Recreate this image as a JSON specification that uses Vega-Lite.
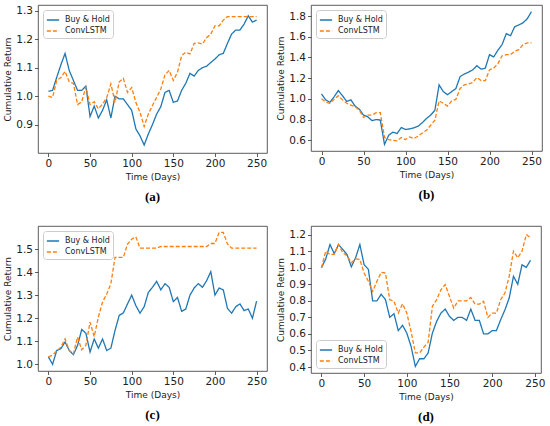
{
  "$schema": "https://vega.github.io/schema/vega-lite/v6.json",
  "padding": {"left": 3, "top": 4, "right": 4, "bottom": 0},
  "data": {"values": [
    {"p":"a","d":0,"Buy & Hold":1.017,"ConvLSTM":1.0},
    {"p":"a","d":5,"Buy & Hold":1.02,"ConvLSTM":0.995},
    {"p":"a","d":10,"Buy & Hold":1.066,"ConvLSTM":1.055},
    {"p":"a","d":15,"Buy & Hold":1.11,"ConvLSTM":1.065},
    {"p":"a","d":20,"Buy & Hold":1.15,"ConvLSTM":1.087},
    {"p":"a","d":25,"Buy & Hold":1.09,"ConvLSTM":1.05},
    {"p":"a","d":30,"Buy & Hold":1.055,"ConvLSTM":1.045},
    {"p":"a","d":35,"Buy & Hold":1.02,"ConvLSTM":0.97},
    {"p":"a","d":40,"Buy & Hold":1.02,"ConvLSTM":0.98},
    {"p":"a","d":45,"Buy & Hold":1.035,"ConvLSTM":1.033},
    {"p":"a","d":50,"Buy & Hold":0.928,"ConvLSTM":0.97},
    {"p":"a","d":55,"Buy & Hold":0.965,"ConvLSTM":0.98},
    {"p":"a","d":60,"Buy & Hold":0.923,"ConvLSTM":0.955},
    {"p":"a","d":65,"Buy & Hold":0.95,"ConvLSTM":0.972},
    {"p":"a","d":70,"Buy & Hold":0.987,"ConvLSTM":0.994},
    {"p":"a","d":75,"Buy & Hold":0.923,"ConvLSTM":1.043},
    {"p":"a","d":80,"Buy & Hold":1.0,"ConvLSTM":0.978},
    {"p":"a","d":85,"Buy & Hold":0.99,"ConvLSTM":1.05},
    {"p":"a","d":90,"Buy & Hold":0.99,"ConvLSTM":1.062},
    {"p":"a","d":95,"Buy & Hold":0.97,"ConvLSTM":1.013},
    {"p":"a","d":100,"Buy & Hold":0.95,"ConvLSTM":1.03},
    {"p":"a","d":105,"Buy & Hold":0.885,"ConvLSTM":0.978},
    {"p":"a","d":110,"Buy & Hold":0.86,"ConvLSTM":0.943},
    {"p":"a","d":115,"Buy & Hold":0.828,"ConvLSTM":0.893},
    {"p":"a","d":120,"Buy & Hold":0.867,"ConvLSTM":0.937},
    {"p":"a","d":125,"Buy & Hold":0.9,"ConvLSTM":0.967},
    {"p":"a","d":130,"Buy & Hold":0.937,"ConvLSTM":0.996},
    {"p":"a","d":135,"Buy & Hold":0.963,"ConvLSTM":1.025},
    {"p":"a","d":140,"Buy & Hold":1.013,"ConvLSTM":1.075},
    {"p":"a","d":145,"Buy & Hold":1.02,"ConvLSTM":1.09},
    {"p":"a","d":150,"Buy & Hold":0.978,"ConvLSTM":1.055},
    {"p":"a","d":155,"Buy & Hold":0.983,"ConvLSTM":1.084},
    {"p":"a","d":160,"Buy & Hold":1.02,"ConvLSTM":1.142},
    {"p":"a","d":165,"Buy & Hold":1.045,"ConvLSTM":1.154},
    {"p":"a","d":170,"Buy & Hold":1.08,"ConvLSTM":1.148},
    {"p":"a","d":175,"Buy & Hold":1.07,"ConvLSTM":1.185},
    {"p":"a","d":180,"Buy & Hold":1.09,"ConvLSTM":1.187},
    {"p":"a","d":185,"Buy & Hold":1.1,"ConvLSTM":1.183},
    {"p":"a","d":190,"Buy & Hold":1.105,"ConvLSTM":1.205},
    {"p":"a","d":195,"Buy & Hold":1.118,"ConvLSTM":1.218},
    {"p":"a","d":200,"Buy & Hold":1.13,"ConvLSTM":1.247},
    {"p":"a","d":205,"Buy & Hold":1.145,"ConvLSTM":1.247},
    {"p":"a","d":210,"Buy & Hold":1.15,"ConvLSTM":1.267},
    {"p":"a","d":215,"Buy & Hold":1.185,"ConvLSTM":1.279},
    {"p":"a","d":220,"Buy & Hold":1.218,"ConvLSTM":1.279},
    {"p":"a","d":225,"Buy & Hold":1.232,"ConvLSTM":1.279},
    {"p":"a","d":230,"Buy & Hold":1.232,"ConvLSTM":1.279},
    {"p":"a","d":235,"Buy & Hold":1.253,"ConvLSTM":1.279},
    {"p":"a","d":240,"Buy & Hold":1.282,"ConvLSTM":1.279},
    {"p":"a","d":245,"Buy & Hold":1.26,"ConvLSTM":1.279},
    {"p":"a","d":250,"Buy & Hold":1.267,"ConvLSTM":1.279},

    {"p":"b","d":0,"Buy & Hold":1.047,"ConvLSTM":1.0},
    {"p":"b","d":5,"Buy & Hold":0.99,"ConvLSTM":0.97},
    {"p":"b","d":10,"Buy & Hold":0.967,"ConvLSTM":0.955},
    {"p":"b","d":15,"Buy & Hold":1.02,"ConvLSTM":0.995},
    {"p":"b","d":20,"Buy & Hold":1.08,"ConvLSTM":1.03},
    {"p":"b","d":25,"Buy & Hold":1.03,"ConvLSTM":0.99},
    {"p":"b","d":30,"Buy & Hold":0.975,"ConvLSTM":0.957},
    {"p":"b","d":35,"Buy & Hold":0.99,"ConvLSTM":0.94},
    {"p":"b","d":40,"Buy & Hold":0.93,"ConvLSTM":0.925},
    {"p":"b","d":45,"Buy & Hold":0.9,"ConvLSTM":0.89},
    {"p":"b","d":50,"Buy & Hold":0.843,"ConvLSTM":0.82},
    {"p":"b","d":55,"Buy & Hold":0.827,"ConvLSTM":0.843},
    {"p":"b","d":60,"Buy & Hold":0.79,"ConvLSTM":0.843},
    {"p":"b","d":65,"Buy & Hold":0.8,"ConvLSTM":0.866},
    {"p":"b","d":70,"Buy & Hold":0.795,"ConvLSTM":0.866},
    {"p":"b","d":75,"Buy & Hold":0.56,"ConvLSTM":0.626},
    {"p":"b","d":80,"Buy & Hold":0.648,"ConvLSTM":0.606},
    {"p":"b","d":85,"Buy & Hold":0.678,"ConvLSTM":0.6},
    {"p":"b","d":90,"Buy & Hold":0.665,"ConvLSTM":0.594},
    {"p":"b","d":95,"Buy & Hold":0.723,"ConvLSTM":0.626},
    {"p":"b","d":100,"Buy & Hold":0.704,"ConvLSTM":0.606},
    {"p":"b","d":105,"Buy & Hold":0.71,"ConvLSTM":0.632},
    {"p":"b","d":110,"Buy & Hold":0.72,"ConvLSTM":0.616},
    {"p":"b","d":115,"Buy & Hold":0.736,"ConvLSTM":0.64},
    {"p":"b","d":120,"Buy & Hold":0.77,"ConvLSTM":0.67},
    {"p":"b","d":125,"Buy & Hold":0.81,"ConvLSTM":0.697},
    {"p":"b","d":130,"Buy & Hold":0.843,"ConvLSTM":0.745},
    {"p":"b","d":135,"Buy & Hold":0.89,"ConvLSTM":0.794},
    {"p":"b","d":140,"Buy & Hold":1.135,"ConvLSTM":0.98},
    {"p":"b","d":145,"Buy & Hold":1.07,"ConvLSTM":0.957},
    {"p":"b","d":150,"Buy & Hold":1.04,"ConvLSTM":0.93},
    {"p":"b","d":155,"Buy & Hold":1.07,"ConvLSTM":0.98},
    {"p":"b","d":160,"Buy & Hold":1.1,"ConvLSTM":0.995},
    {"p":"b","d":165,"Buy & Hold":1.215,"ConvLSTM":1.1},
    {"p":"b","d":170,"Buy & Hold":1.24,"ConvLSTM":1.135},
    {"p":"b","d":175,"Buy & Hold":1.258,"ConvLSTM":1.145},
    {"p":"b","d":180,"Buy & Hold":1.28,"ConvLSTM":1.158},
    {"p":"b","d":185,"Buy & Hold":1.32,"ConvLSTM":1.206},
    {"p":"b","d":190,"Buy & Hold":1.287,"ConvLSTM":1.177},
    {"p":"b","d":195,"Buy & Hold":1.297,"ConvLSTM":1.177},
    {"p":"b","d":200,"Buy & Hold":1.427,"ConvLSTM":1.28},
    {"p":"b","d":205,"Buy & Hold":1.405,"ConvLSTM":1.297},
    {"p":"b","d":210,"Buy & Hold":1.47,"ConvLSTM":1.34},
    {"p":"b","d":215,"Buy & Hold":1.525,"ConvLSTM":1.417},
    {"p":"b","d":220,"Buy & Hold":1.63,"ConvLSTM":1.427},
    {"p":"b","d":225,"Buy & Hold":1.61,"ConvLSTM":1.427},
    {"p":"b","d":230,"Buy & Hold":1.697,"ConvLSTM":1.46},
    {"p":"b","d":235,"Buy & Hold":1.715,"ConvLSTM":1.476},
    {"p":"b","d":240,"Buy & Hold":1.735,"ConvLSTM":1.525},
    {"p":"b","d":245,"Buy & Hold":1.775,"ConvLSTM":1.54},
    {"p":"b","d":250,"Buy & Hold":1.843,"ConvLSTM":1.54},

    {"p":"c","d":0,"Buy & Hold":1.032,"ConvLSTM":1.032},
    {"p":"c","d":5,"Buy & Hold":1.0,"ConvLSTM":1.04},
    {"p":"c","d":10,"Buy & Hold":1.06,"ConvLSTM":1.058},
    {"p":"c","d":15,"Buy & Hold":1.068,"ConvLSTM":1.075},
    {"p":"c","d":20,"Buy & Hold":1.097,"ConvLSTM":1.11},
    {"p":"c","d":25,"Buy & Hold":1.06,"ConvLSTM":1.06},
    {"p":"c","d":30,"Buy & Hold":1.042,"ConvLSTM":1.046},
    {"p":"c","d":35,"Buy & Hold":1.082,"ConvLSTM":1.118},
    {"p":"c","d":40,"Buy & Hold":1.151,"ConvLSTM":1.063},
    {"p":"c","d":45,"Buy & Hold":1.135,"ConvLSTM":1.082},
    {"p":"c","d":50,"Buy & Hold":1.053,"ConvLSTM":1.183},
    {"p":"c","d":55,"Buy & Hold":1.11,"ConvLSTM":1.12},
    {"p":"c","d":60,"Buy & Hold":1.07,"ConvLSTM":1.205},
    {"p":"c","d":65,"Buy & Hold":1.11,"ConvLSTM":1.27},
    {"p":"c","d":70,"Buy & Hold":1.06,"ConvLSTM":1.305},
    {"p":"c","d":75,"Buy & Hold":1.07,"ConvLSTM":1.349},
    {"p":"c","d":80,"Buy & Hold":1.147,"ConvLSTM":1.464},
    {"p":"c","d":85,"Buy & Hold":1.212,"ConvLSTM":1.464},
    {"p":"c","d":90,"Buy & Hold":1.223,"ConvLSTM":1.464},
    {"p":"c","d":95,"Buy & Hold":1.262,"ConvLSTM":1.522},
    {"p":"c","d":100,"Buy & Hold":1.3,"ConvLSTM":1.543},
    {"p":"c","d":105,"Buy & Hold":1.255,"ConvLSTM":1.553},
    {"p":"c","d":110,"Buy & Hold":1.222,"ConvLSTM":1.504},
    {"p":"c","d":115,"Buy & Hold":1.25,"ConvLSTM":1.504},
    {"p":"c","d":120,"Buy & Hold":1.312,"ConvLSTM":1.504},
    {"p":"c","d":125,"Buy & Hold":1.334,"ConvLSTM":1.504},
    {"p":"c","d":130,"Buy & Hold":1.36,"ConvLSTM":1.504},
    {"p":"c","d":135,"Buy & Hold":1.323,"ConvLSTM":1.511},
    {"p":"c","d":140,"Buy & Hold":1.35,"ConvLSTM":1.511},
    {"p":"c","d":145,"Buy & Hold":1.334,"ConvLSTM":1.511},
    {"p":"c","d":150,"Buy & Hold":1.272,"ConvLSTM":1.511},
    {"p":"c","d":155,"Buy & Hold":1.29,"ConvLSTM":1.511},
    {"p":"c","d":160,"Buy & Hold":1.23,"ConvLSTM":1.511},
    {"p":"c","d":165,"Buy & Hold":1.24,"ConvLSTM":1.511},
    {"p":"c","d":170,"Buy & Hold":1.3,"ConvLSTM":1.511},
    {"p":"c","d":175,"Buy & Hold":1.331,"ConvLSTM":1.511},
    {"p":"c","d":180,"Buy & Hold":1.35,"ConvLSTM":1.511},
    {"p":"c","d":185,"Buy & Hold":1.334,"ConvLSTM":1.511},
    {"p":"c","d":190,"Buy & Hold":1.363,"ConvLSTM":1.511},
    {"p":"c","d":195,"Buy & Hold":1.402,"ConvLSTM":1.524},
    {"p":"c","d":200,"Buy & Hold":1.3,"ConvLSTM":1.524},
    {"p":"c","d":205,"Buy & Hold":1.331,"ConvLSTM":1.572},
    {"p":"c","d":210,"Buy & Hold":1.323,"ConvLSTM":1.572},
    {"p":"c","d":215,"Buy & Hold":1.243,"ConvLSTM":1.522},
    {"p":"c","d":220,"Buy & Hold":1.222,"ConvLSTM":1.504},
    {"p":"c","d":225,"Buy & Hold":1.25,"ConvLSTM":1.504},
    {"p":"c","d":230,"Buy & Hold":1.262,"ConvLSTM":1.504},
    {"p":"c","d":235,"Buy & Hold":1.233,"ConvLSTM":1.504},
    {"p":"c","d":240,"Buy & Hold":1.24,"ConvLSTM":1.504},
    {"p":"c","d":245,"Buy & Hold":1.2,"ConvLSTM":1.504},
    {"p":"c","d":250,"Buy & Hold":1.274,"ConvLSTM":1.504},

    {"p":"d","d":0,"Buy & Hold":1.0,"ConvLSTM":1.0},
    {"p":"d","d":5,"Buy & Hold":1.053,"ConvLSTM":1.1},
    {"p":"d","d":10,"Buy & Hold":1.14,"ConvLSTM":1.08},
    {"p":"d","d":15,"Buy & Hold":1.085,"ConvLSTM":1.08},
    {"p":"d","d":20,"Buy & Hold":1.14,"ConvLSTM":1.14},
    {"p":"d","d":25,"Buy & Hold":1.11,"ConvLSTM":1.09},
    {"p":"d","d":30,"Buy & Hold":1.08,"ConvLSTM":1.073},
    {"p":"d","d":35,"Buy & Hold":1.005,"ConvLSTM":1.03},
    {"p":"d","d":40,"Buy & Hold":1.06,"ConvLSTM":1.053},
    {"p":"d","d":45,"Buy & Hold":1.14,"ConvLSTM":1.05},
    {"p":"d","d":50,"Buy & Hold":1.018,"ConvLSTM":0.968},
    {"p":"d","d":55,"Buy & Hold":0.99,"ConvLSTM":0.918},
    {"p":"d","d":60,"Buy & Hold":0.8,"ConvLSTM":0.857},
    {"p":"d","d":65,"Buy & Hold":0.8,"ConvLSTM":0.918},
    {"p":"d","d":70,"Buy & Hold":0.84,"ConvLSTM":0.972},
    {"p":"d","d":75,"Buy & Hold":0.807,"ConvLSTM":0.968},
    {"p":"d","d":80,"Buy & Hold":0.7,"ConvLSTM":0.807},
    {"p":"d","d":85,"Buy & Hold":0.722,"ConvLSTM":0.797},
    {"p":"d","d":90,"Buy & Hold":0.62,"ConvLSTM":0.726},
    {"p":"d","d":95,"Buy & Hold":0.652,"ConvLSTM":0.782},
    {"p":"d","d":100,"Buy & Hold":0.605,"ConvLSTM":0.726},
    {"p":"d","d":105,"Buy & Hold":0.525,"ConvLSTM":0.615},
    {"p":"d","d":110,"Buy & Hold":0.404,"ConvLSTM":0.485},
    {"p":"d","d":115,"Buy & Hold":0.45,"ConvLSTM":0.485},
    {"p":"d","d":120,"Buy & Hold":0.45,"ConvLSTM":0.52},
    {"p":"d","d":125,"Buy & Hold":0.485,"ConvLSTM":0.55},
    {"p":"d","d":130,"Buy & Hold":0.605,"ConvLSTM":0.767},
    {"p":"d","d":135,"Buy & Hold":0.676,"ConvLSTM":0.807},
    {"p":"d","d":140,"Buy & Hold":0.726,"ConvLSTM":0.867},
    {"p":"d","d":145,"Buy & Hold":0.75,"ConvLSTM":0.898},
    {"p":"d","d":150,"Buy & Hold":0.706,"ConvLSTM":0.827},
    {"p":"d","d":155,"Buy & Hold":0.682,"ConvLSTM":0.756},
    {"p":"d","d":160,"Buy & Hold":0.7,"ConvLSTM":0.8},
    {"p":"d","d":165,"Buy & Hold":0.7,"ConvLSTM":0.8},
    {"p":"d","d":170,"Buy & Hold":0.682,"ConvLSTM":0.8},
    {"p":"d","d":175,"Buy & Hold":0.75,"ConvLSTM":0.82},
    {"p":"d","d":180,"Buy & Hold":0.682,"ConvLSTM":0.78},
    {"p":"d","d":185,"Buy & Hold":0.682,"ConvLSTM":0.78},
    {"p":"d","d":190,"Buy & Hold":0.6,"ConvLSTM":0.797},
    {"p":"d","d":195,"Buy & Hold":0.6,"ConvLSTM":0.7},
    {"p":"d","d":200,"Buy & Hold":0.62,"ConvLSTM":0.726},
    {"p":"d","d":205,"Buy & Hold":0.62,"ConvLSTM":0.726},
    {"p":"d","d":210,"Buy & Hold":0.686,"ConvLSTM":0.807},
    {"p":"d","d":215,"Buy & Hold":0.746,"ConvLSTM":0.847},
    {"p":"d","d":220,"Buy & Hold":0.817,"ConvLSTM":0.948},
    {"p":"d","d":225,"Buy & Hold":0.948,"ConvLSTM":1.1},
    {"p":"d","d":230,"Buy & Hold":0.9,"ConvLSTM":1.06},
    {"p":"d","d":235,"Buy & Hold":1.018,"ConvLSTM":1.1},
    {"p":"d","d":240,"Buy & Hold":1.002,"ConvLSTM":1.2},
    {"p":"d","d":245,"Buy & Hold":1.045,"ConvLSTM":1.18}
  ]},
  "spacing": 20,
  "vconcat": [
    {
      "spacing": 8,
      "hconcat": [
        {
          "width": 229, "height": 148,
          "title": "(a)",
          "transform": [
            {"filter": "datum.p == 'a'"},
            {"fold": ["Buy & Hold", "ConvLSTM"], "as": ["series", "value"]}
          ],
          "mark": {"type": "line", "strokeWidth": 1.3, "clip": true},
          "encoding": {
            "x": {"field": "d", "type": "quantitative", "scale": {"domain": [-12.5, 262.5], "nice": false, "zero": false}, "axis": {"values": [0, 50, 100, 150, 200, 250], "title": "Time (Days)"}},
            "y": {"field": "value", "type": "quantitative", "scale": {"domain": [0.8, 1.32], "nice": false, "zero": false}, "axis": {"values": [0.9, 1.0, 1.1, 1.2, 1.3], "format": ".1f", "title": "Cumulative Return"}},
            "color": {"field": "series", "type": "nominal", "scale": {"domain": ["Buy & Hold", "ConvLSTM"], "range": ["#1f77b4", "#ff7f0e"]}, "legend": {"orient": "top-left", "title": null}},
            "strokeDash": {"field": "series", "type": "nominal", "scale": {"domain": ["Buy & Hold", "ConvLSTM"], "range": [[1, 0], [4, 2]]}, "legend": {"orient": "top-left", "title": null}}
          }
        },
        {
          "width": 231, "height": 146,
          "title": "(b)",
          "transform": [
            {"filter": "datum.p == 'b'"},
            {"fold": ["Buy & Hold", "ConvLSTM"], "as": ["series", "value"]}
          ],
          "mark": {"type": "line", "strokeWidth": 1.3, "clip": true},
          "encoding": {
            "x": {"field": "d", "type": "quantitative", "scale": {"domain": [-12.5, 262.5], "nice": false, "zero": false}, "axis": {"values": [0, 50, 100, 150, 200, 250], "title": "Time (Days)"}},
            "y": {"field": "value", "type": "quantitative", "scale": {"domain": [0.496, 1.907], "nice": false, "zero": false}, "axis": {"values": [0.6, 0.8, 1.0, 1.2, 1.4, 1.6, 1.8], "format": ".1f", "title": "Cumulative Return"}},
            "color": {"field": "series", "type": "nominal", "scale": {"domain": ["Buy & Hold", "ConvLSTM"], "range": ["#1f77b4", "#ff7f0e"]}, "legend": {"orient": "top-left", "title": null}},
            "strokeDash": {"field": "series", "type": "nominal", "scale": {"domain": ["Buy & Hold", "ConvLSTM"], "range": [[1, 0], [4, 2]]}, "legend": {"orient": "top-left", "title": null}}
          }
        }
      ],
      "resolve": {"scale": {"color": "independent", "strokeDash": "independent", "y": "independent"}}
    },
    {
      "spacing": 8,
      "hconcat": [
        {
          "width": 229, "height": 145,
          "title": "(c)",
          "transform": [
            {"filter": "datum.p == 'c'"},
            {"fold": ["Buy & Hold", "ConvLSTM"], "as": ["series", "value"]}
          ],
          "mark": {"type": "line", "strokeWidth": 1.3, "clip": true},
          "encoding": {
            "x": {"field": "d", "type": "quantitative", "scale": {"domain": [-12.5, 262.5], "nice": false, "zero": false}, "axis": {"values": [0, 50, 100, 150, 200, 250], "title": "Time (Days)"}},
            "y": {"field": "value", "type": "quantitative", "scale": {"domain": [0.971, 1.6], "nice": false, "zero": false}, "axis": {"values": [1.0, 1.1, 1.2, 1.3, 1.4, 1.5], "format": ".1f", "title": "Cumulative Return"}},
            "color": {"field": "series", "type": "nominal", "scale": {"domain": ["Buy & Hold", "ConvLSTM"], "range": ["#1f77b4", "#ff7f0e"]}, "legend": {"orient": "top-left", "title": null}},
            "strokeDash": {"field": "series", "type": "nominal", "scale": {"domain": ["Buy & Hold", "ConvLSTM"], "range": [[1, 0], [4, 2]]}, "legend": {"orient": "top-left", "title": null}}
          }
        },
        {
          "width": 230, "height": 147,
          "title": "(d)",
          "transform": [
            {"filter": "datum.p == 'd'"},
            {"fold": ["Buy & Hold", "ConvLSTM"], "as": ["series", "value"]}
          ],
          "mark": {"type": "line", "strokeWidth": 1.3, "clip": true},
          "encoding": {
            "x": {"field": "d", "type": "quantitative", "scale": {"domain": [-12.25, 257.25], "nice": false, "zero": false}, "axis": {"values": [0, 50, 100, 150, 200, 250], "title": "Time (Days)"}},
            "y": {"field": "value", "type": "quantitative", "scale": {"domain": [0.364, 1.252], "nice": false, "zero": false}, "axis": {"values": [0.4, 0.5, 0.6, 0.7, 0.8, 0.9, 1.0, 1.1, 1.2], "format": ".1f", "title": "Cumulative Return"}},
            "color": {"field": "series", "type": "nominal", "scale": {"domain": ["Buy & Hold", "ConvLSTM"], "range": ["#1f77b4", "#ff7f0e"]}, "legend": {"orient": "bottom-left", "title": null}},
            "strokeDash": {"field": "series", "type": "nominal", "scale": {"domain": ["Buy & Hold", "ConvLSTM"], "range": [[1, 0], [4, 2]]}, "legend": {"orient": "bottom-left", "title": null}}
          }
        }
      ],
      "resolve": {"scale": {"color": "independent", "strokeDash": "independent", "y": "independent", "x": "independent"}}
    }
  ],
  "resolve": {"scale": {"color": "independent", "strokeDash": "independent", "y": "independent", "x": "independent"}},
  "config": {
    "font": "DejaVu Sans",
    "view": {"stroke": "#333", "strokeWidth": 0.8},
    "axis": {
      "grid": false, "domain": false,
      "tickColor": "#333", "tickSize": 3.5, "tickWidth": 0.8,
      "labelFont": "DejaVu Sans", "labelFontSize": 10.5, "labelColor": "#222", "labelPadding": 2,
      "titleFont": "DejaVu Sans", "titleFontSize": 9, "titleFontWeight": "normal", "titleColor": "#222", "titlePadding": 3
    },
    "legend": {
      "symbolType": "stroke", "symbolSize": 150, "symbolStrokeWidth": 1.3,
      "labelFont": "DejaVu Sans", "labelFontSize": 8, "labelColor": "#222", "labelOffset": 5,
      "rowPadding": 0, "padding": 3, "offset": 5,
      "fillColor": "rgba(255,255,255,0.8)", "strokeColor": "#ccc", "cornerRadius": 3
    },
    "title": {
      "orient": "bottom", "anchor": "middle", "frame": "group",
      "font": "Liberation Serif", "fontSize": 13, "fontWeight": "bold", "color": "#000", "offset": 10
    }
  }
}
